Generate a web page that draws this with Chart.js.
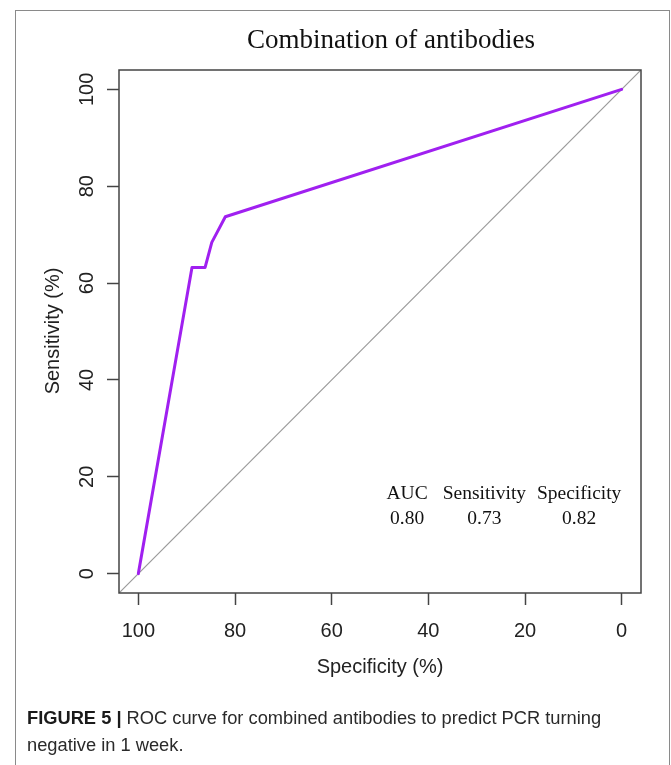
<!DOCTYPE html>
<html>
<head>
<meta charset="utf-8">
<script src="https://cdn.jsdelivr.net/npm/chart.js@4"></script>
<style>
  html, body { margin: 0; padding: 0; background: #fff; }
  #wrap { position: relative; width: 671px; height: 765px; overflow: hidden; }
  #c { position: absolute; left: 0; top: 0; }
  #frame { position: absolute; left: 15px; top: 10px; width: 655px; height: 800px; border: 1.5px solid #8a8a8a; box-sizing: border-box; }
  #caption { position: absolute; left: 27px; top: 704px; width: 630px; font-family: "Liberation Sans", Arial, sans-serif; font-size: 18.3px; line-height: 27px; color: #2a2a2a; }
  #caption b { color: #1a1a1a; }
</style>
</head>
<body>
<div id="wrap">
  <div id="frame"></div>
  <canvas id="c" width="671" height="765"></canvas>
  <div id="caption"><b>FIGURE 5 |</b> ROC curve for combined antibodies to predict PCR turning negative in 1 week.</div>
</div>
<script>
// ---- data ----
const specificity = [100, 88.9, 86.2, 84.8, 82.0, 0];
const sensitivity = [0, 63.2, 63.2, 68.4, 73.7, 100];
const diagSpec = [104, -4];
const diagSens = [-4, 104];
const xTicks = [100, 80, 60, 40, 20, 0];
const yTicks = [0, 20, 40, 60, 80, 100];
const titleText = "Combination of antibodies";
const xTitle = "Specificity (%)";
const yTitle = "Sensitivity (%)";
const statHeaders = ["AUC", "Sensitivity", "Specificity"];
const statValues = ["0.80", "0.73", "0.82"];
const statX = [44.4, 28.4, 8.8];   // specificity-axis positions of the text columns
const statY = [15.5, 10.2];        // sensitivity-axis positions (baselines)

const rocPts = specificity.map((s, i) => ({ x: s, y: sensitivity[i] }));
const diagPts = diagSpec.map((s, i) => ({ x: s, y: diagSens[i] }));

const axisColor = '#444';

const decor = {
  id: 'decor',
  afterDraw(chart) {
    const { ctx, chartArea: a, scales: { x, y } } = chart;
    ctx.save();
    ctx.strokeStyle = axisColor;
    ctx.lineWidth = 1.5;
    ctx.strokeRect(a.left, a.top, a.right - a.left, a.bottom - a.top);
    ctx.fillStyle = '#111';
    ctx.font = '27px "Liberation Serif", "Times New Roman", serif';
    ctx.textAlign = 'center';
    ctx.textBaseline = 'alphabetic';
    ctx.fillText(titleText, 391, 48);
    ctx.font = '20px "Liberation Sans", Arial, sans-serif';
    ctx.fillStyle = '#222';
    xTicks.forEach(v => ctx.fillText(String(v), x.getPixelForValue(v), 637));
    yTicks.forEach(v => {
      ctx.save();
      ctx.translate(93, y.getPixelForValue(v));
      ctx.rotate(-Math.PI / 2);
      ctx.fillText(String(v), 0, 0);
      ctx.restore();
    });
    ctx.fillText(xTitle, 380, 673);
    ctx.save();
    ctx.translate(59, 331);
    ctx.rotate(-Math.PI / 2);
    ctx.fillText(yTitle, 0, 0);
    ctx.restore();
    ctx.font = '19.5px "Liberation Serif", "Times New Roman", serif';
    ctx.fillStyle = '#111';
    statHeaders.forEach((t, i) => ctx.fillText(t, x.getPixelForValue(statX[i]), y.getPixelForValue(statY[0])));
    statValues.forEach((t, i) => ctx.fillText(t, x.getPixelForValue(statX[i]), y.getPixelForValue(statY[1])));
    ctx.restore();
  }
};

new Chart(document.getElementById('c'), {
  type: 'scatter',
  data: {
    datasets: [
      { data: diagPts, showLine: true, borderColor: '#9a9a9a', borderWidth: 1.2, pointRadius: 0, order: 2 },
      { data: rocPts, showLine: true, borderColor: '#A020F0', borderWidth: 3, pointRadius: 0, order: 1, borderJoinStyle: 'round', borderCapStyle: 'round' }
    ]
  },
  options: {
    responsive: false,
    devicePixelRatio: 1,
    animation: false,
    events: [],
    layout: { padding: { left: 19, top: 70, right: 30, bottom: 72 } },
    plugins: { legend: { display: false }, title: { display: false }, tooltip: { enabled: false } },
    scales: {
      x: {
        type: 'linear', position: 'bottom', min: -4, max: 104, reverse: true,
        afterBuildTicks: s => { s.ticks = xTicks.map(v => ({ value: v })); },
        afterFit: s => { s.height = 100; },
        ticks: { display: false },
        grid: { drawOnChartArea: false, drawTicks: true, tickLength: 12, tickColor: axisColor, tickWidth: 1.5 },
        border: { display: false }
      },
      y: {
        type: 'linear', position: 'left', min: -4, max: 104,
        afterBuildTicks: s => { s.ticks = yTicks.map(v => ({ value: v })); },
        afterFit: s => { s.width = 100; },
        ticks: { display: false },
        grid: { drawOnChartArea: false, drawTicks: true, tickLength: 12, tickColor: axisColor, tickWidth: 1.5 },
        border: { display: false }
      }
    }
  },
  plugins: [decor]
});
</script>
</body>
</html>
